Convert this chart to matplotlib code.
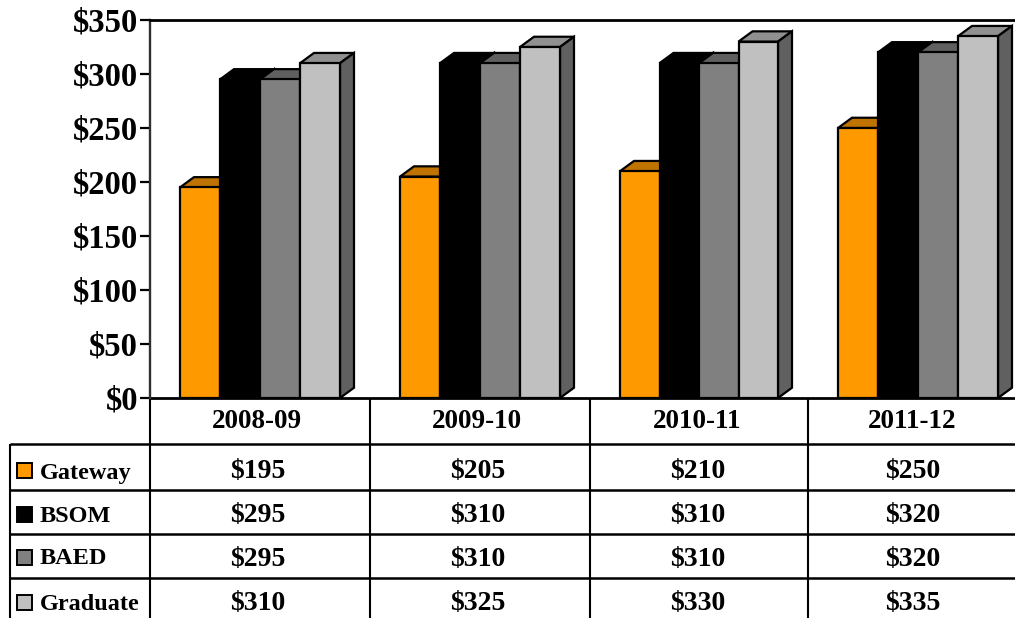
import matplotlib
matplotlib.use('Agg')
import matplotlib.pyplot as plt
from matplotlib.patches import Polygon, Rectangle

# data
YEARS = ['2008-09', '2009-10', '2010-11', '2011-12']
SERIES = ['Gateway', 'BSOM', 'BAED', 'Graduate']
GATEWAY = [195, 205, 210, 250]
BSOM = [295, 310, 310, 320]
BAED = [295, 310, 310, 320]
GRADUATE = [310, 325, 330, 335]
VALUES = [GATEWAY, BSOM, BAED, GRADUATE]
YTICKS = [0, 50, 100, 150, 200, 250, 300, 350]

FRONT = ['#FF9900', '#000000', '#808080', '#C0C0C0']
TOP = ['#BF7300', '#000000', '#606060', '#909090']
SIDE = ['#BF7300', '#000000', '#4D4D4D', '#606060']

W, H = 1015, 618
plt.rcParams['font.family'] = ['Liberation Serif', 'DejaVu Serif']
plt.rcParams['font.weight'] = 'bold'

fig = plt.figure(figsize=(W/100, H/100), dpi=100)

# table layer, pixel coords
bg = fig.add_axes([0, 0, 1, 1])
bg.set_xlim(0, W)
bg.set_ylim(H, 0)
bg.axis('off')

colx = [150, 370, 590, 808]
rowy = [444, 490, 534, 578]
textx = [258, 478, 698, 913]
texty = [472, 515, 559, 603]
boxy = [470, 514, 557, 602]
namey = [473, 516, 559, 604]
for y in rowy:
    bg.plot([10, W], [y, y], color='k', lw=1.8, solid_capstyle='butt')
for x in colx:
    bg.plot([x, x], [398, H], color='k', lw=1.5, solid_capstyle='butt')
bg.plot([10, 10], [444, H], color='k', lw=1.5, solid_capstyle='butt')

for i, year in enumerate(YEARS):
    bg.text(textx[i]-1, 421, year, ha='center', va='center', fontsize=19.5)
    for j in range(4):
        bg.text(textx[i], texty[j], '$%d' % VALUES[j][i], ha='center', va='center', fontsize=20)

for j, name in enumerate(SERIES):
    bg.add_patch(Rectangle((17, boxy[j]-7.5), 15, 15, fc=FRONT[j], ec='k', lw=1.4))
    bg.text(40, namey[j], name, ha='left', va='center', fontsize=17.5)

# plot area
ax = fig.add_axes([150/W, 1-398/H, (W-150)/W, 378/H])
ax.set_xlim(0, 865)
ax.set_ylim(0, 350)
ax.patch.set_alpha(0)
for s in ['right', 'bottom']:
    ax.spines[s].set_visible(False)
ax.spines['top'].set_linewidth(2)
ax.spines['left'].set_linewidth(1.7)
ax.spines['left'].set_color('#303030')
ax.set_xticks([])
ax.set_yticks(YTICKS)
ax.set_yticklabels(['$%d' % v for v in YTICKS], fontsize=23.5)
ax.tick_params(axis='y', length=7, width=1.6, pad=1.5)
ax.plot([0, 865], [0, 0], color='k', lw=2, clip_on=False, solid_capstyle='butt')

starts = [30, 250, 470, 688]
widths = [40, 40, 39.5, 40]
dx = 14
dy = 9.5
for i in range(4):
    bw = widths[i]
    for j in range(4):
        v = VALUES[j][i]
        x0 = starts[i] + j*bw
        x1 = x0 + bw
        ax.add_patch(Polygon([(x0, v), (x1, v), (x1+dx, v+dy), (x0+dx, v+dy)],
                             fc=TOP[j], ec='k', lw=1.6, joinstyle='miter'))
        ax.add_patch(Polygon([(x1, 0), (x1+dx, dy), (x1+dx, v+dy), (x1, v)],
                             fc=SIDE[j], ec='k', lw=1.6, joinstyle='miter'))
        ax.add_patch(Rectangle((x0, 0), bw, v, fc=FRONT[j], ec='k', lw=1.6))

fig.savefig('out.png', dpi=100)
